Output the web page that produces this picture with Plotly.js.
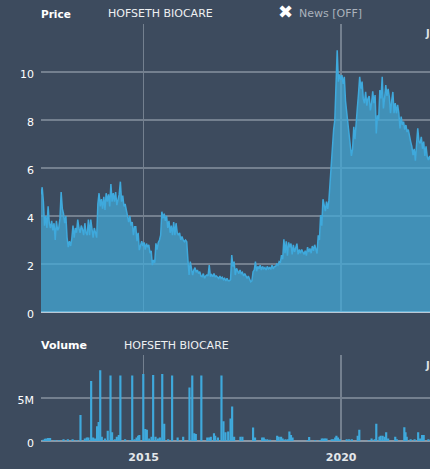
<!DOCTYPE html>
<html><head><meta charset="utf-8">
<script src="https://cdn.plot.ly/plotly-3.0.1.min.js"></script>
<style>html,body{margin:0;padding:0;background:#3d4b5e}</style></head>
<body><div id="chart" style="width:430px;height:469px"></div>
<script>
const companyName = "HOFSETH BIOCARE";
const priceYears = [
2012.40,2012.43,2012.46,2012.49,2012.52,2012.55,2012.58,2012.61,2012.64,2012.67,
2012.70,2012.73,2012.76,2012.79,2012.82,2012.85,2012.88,2012.91,2012.94,2012.97,
2013.00,2013.03,2013.06,2013.09,2013.12,2013.15,2013.18,2013.21,2013.24,2013.27,
2013.30,2013.33,2013.36,2013.39,2013.42,2013.45,2013.48,2013.51,2013.54,2013.57,
2013.60,2013.63,2013.66,2013.69,2013.72,2013.75,2013.78,2013.81,2013.84,2013.87,
2013.90,2013.93,2013.96,2013.99,2014.02,2014.05,2014.08,2014.11,2014.14,2014.17,
2014.20,2014.23,2014.26,2014.29,2014.32,2014.35,2014.38,2014.41,2014.44,2014.47,
2014.50,2014.53,2014.56,2014.59,2014.62,2014.65,2014.68,2014.71,2014.74,2014.77,
2014.80,2014.83,2014.86,2014.89,2014.92,2014.95,2014.98,2015.01,2015.04,2015.07,
2015.10,2015.13,2015.16,2015.19,2015.22,2015.25,2015.28,2015.31,2015.34,2015.37,
2015.40,2015.43,2015.46,2015.49,2015.52,2015.55,2015.58,2015.61,2015.64,2015.67,
2015.70,2015.73,2015.76,2015.79,2015.82,2015.85,2015.88,2015.91,2015.94,2015.97,
2016.00,2016.03,2016.06,2016.09,2016.12,2016.15,2016.18,2016.21,2016.24,2016.27,
2016.30,2016.33,2016.36,2016.39,2016.42,2016.45,2016.48,2016.51,2016.54,2016.57,
2016.60,2016.63,2016.66,2016.69,2016.72,2016.75,2016.78,2016.81,2016.84,2016.87,
2016.90,2016.93,2016.96,2016.99,2017.02,2017.05,2017.08,2017.11,2017.14,2017.17,
2017.20,2017.23,2017.26,2017.29,2017.32,2017.35,2017.38,2017.41,2017.44,2017.47,
2017.50,2017.53,2017.56,2017.59,2017.62,2017.65,2017.68,2017.71,2017.74,2017.77,
2017.80,2017.83,2017.86,2017.89,2017.92,2017.95,2017.98,2018.01,2018.04,2018.07,
2018.10,2018.13,2018.16,2018.19,2018.22,2018.25,2018.28,2018.31,2018.34,2018.37,
2018.40,2018.43,2018.46,2018.49,2018.52,2018.55,2018.58,2018.61,2018.64,2018.67,
2018.70,2018.73,2018.76,2018.79,2018.82,2018.85,2018.88,2018.91,2018.94,2018.97,
2019.00,2019.03,2019.06,2019.09,2019.12,2019.15,2019.18,2019.21,2019.24,2019.27,
2019.30,2019.33,2019.36,2019.39,2019.42,2019.45,2019.48,2019.51,2019.54,2019.57,
2019.60,2019.63,2019.66,2019.69,2019.72,2019.75,2019.78,2019.81,2019.84,2019.87,
2019.90,2019.93,2019.96,2019.99,2020.02,2020.05,2020.08,2020.11,2020.14,2020.17,
2020.20,2020.23,2020.26,2020.29,2020.32,2020.35,2020.38,2020.41,2020.44,2020.47,
2020.50,2020.53,2020.56,2020.59,2020.62,2020.65,2020.68,2020.71,2020.74,2020.77,
2020.80,2020.83,2020.86,2020.89,2020.92,2020.95,2020.98,2021.01,2021.04,2021.07,
2021.10,2021.13,2021.16,2021.19,2021.22,2021.25,2021.28,2021.31,2021.34,2021.37,
2021.40,2021.43,2021.46,2021.49,2021.52,2021.55,2021.58,2021.61,2021.64,2021.67,
2021.70,2021.73,2021.76,2021.79,2021.82,2021.85,2021.88,2021.91,2021.94,2021.97,
2022.00,2022.03,2022.06,2022.09,2022.12,2022.15,2022.18,2022.21,2022.24,2022.27];
const priceValues = [
4.9,5.2,4.6,3.6,4.0,3.5,4.4,3.7,3.5,3.8,
3.4,3.7,3.0,3.8,3.4,3.5,3.9,5.0,4.3,4.1,
3.7,4.0,3.1,2.7,2.95,2.75,3.05,3.6,3.1,3.5,
3.3,3.85,3.5,3.3,3.6,3.45,3.2,3.7,3.3,3.2,
3.85,3.2,3.85,3.3,3.1,3.5,3.25,3.1,4.5,4.95,
4.4,4.7,4.3,4.8,4.25,4.95,4.6,4.9,4.4,5.33,
4.6,4.95,4.6,5.0,4.45,4.7,4.9,5.43,4.6,4.85,
4.4,4.5,4.25,3.95,3.75,4.0,3.6,3.75,3.2,3.55,
3.55,2.95,3.3,2.58,2.8,2.95,2.75,2.9,2.6,2.85,
2.7,2.8,2.45,2.55,1.95,2.17,2.05,2.86,2.6,2.9,
3.0,3.2,4.18,3.9,4.1,3.8,4.0,3.5,3.8,3.3,
3.6,3.2,3.75,3.2,3.7,3.3,3.2,3.3,3.0,3.15,
3.0,2.93,3.0,2.93,2.17,1.54,2.1,1.7,1.54,1.75,
1.85,1.65,1.75,1.6,1.68,1.5,1.47,1.6,1.4,1.5,
1.54,1.5,1.96,1.47,1.55,1.47,1.6,1.47,1.5,1.45,
1.4,1.5,1.4,1.45,1.35,1.4,1.3,1.4,1.3,1.3,
1.35,2.37,1.89,2.1,1.54,1.82,1.7,1.6,1.75,1.6,
1.65,1.5,1.6,1.45,1.4,1.5,1.35,1.26,1.3,1.68,
1.75,2.1,1.7,1.9,1.8,1.95,1.75,1.9,1.8,1.85,
1.75,1.9,1.8,1.85,1.8,1.95,1.8,1.9,1.9,2.0,
1.95,2.1,2.05,2.37,2.2,3.03,2.45,2.95,2.35,2.9,
2.7,2.85,2.4,2.8,2.5,2.7,2.85,2.4,2.6,2.45,
2.6,2.5,2.4,2.55,2.35,2.7,2.5,2.65,2.45,2.75,
2.55,2.8,2.6,2.44,3.2,3.0,4.04,3.6,4.7,4.4,
4.2,4.6,4.3,4.65,5.5,6.2,6.8,7.6,8.0,9.8,
10.9,9.6,9.9,9.67,9.87,9.5,9.8,8.8,8.28,8.07,
7.4,6.96,6.5,6.8,7.72,7.2,7.72,8.5,9.1,9.8,
9.3,9.6,8.9,8.7,9.17,8.6,8.9,9.0,8.4,8.7,
9.2,8.7,9.04,7.44,8.2,8.0,9.25,8.9,9.8,8.48,
8.9,9.46,9.0,9.3,8.97,8.28,8.8,9.17,8.28,8.7,
8.28,8.63,8.3,7.65,8.14,7.8,7.93,7.6,7.79,7.5,
7.6,7.3,7.1,6.9,6.54,6.8,6.3,7.0,7.65,7.1,
7.03,7.3,6.8,7.1,6.5,6.9,6.47,6.33,6.5,6.33];
const volumeYears = [2012.46,2012.50,2012.54,2012.58,2012.63,2012.75,2012.85,2012.97,2013.08,2013.20,2013.30,2013.40,2013.51,2013.56,2013.60,2013.67,2013.72,2013.77,2013.82,2013.86,2013.90,2013.94,2014.02,2014.09,2014.16,2014.20,2014.27,2014.32,2014.37,2014.41,2014.53,2014.65,2014.71,2014.77,2014.82,2014.86,2014.89,2014.99,2015.04,2015.08,2015.14,2015.20,2015.24,2015.30,2015.36,2015.41,2015.47,2015.52,2015.62,2015.72,2015.86,2016.00,2016.16,2016.23,2016.28,2016.32,2016.46,2016.61,2016.66,2016.70,2016.78,2016.81,2016.88,2016.97,2017.02,2017.07,2017.14,2017.20,2017.24,2017.29,2017.45,2017.50,2017.77,2017.82,2018.00,2018.04,2018.07,2018.13,2018.20,2018.38,2018.42,2018.48,2018.52,2018.59,2018.65,2018.69,2018.73,2018.77,2019.15,2019.19,2019.34,2019.46,2019.51,2019.55,2019.59,2019.63,2019.76,2019.80,2019.85,2019.88,2019.92,2019.97,2020.14,2020.20,2020.27,2020.42,2020.46,2020.70,2020.77,2020.85,2020.89,2020.97,2021.00,2021.05,2021.10,2021.14,2021.19,2021.37,2021.41,2021.60,2021.63,2021.66,2021.76,2021.86,2021.95,2022.00,2022.05,2022.09,2022.21];
const volumeValues = [0.15,0.25,0.3,0.35,0.35,0.1,0.1,0.2,0.2,0.2,0.1,3.0,0.3,0.4,0.4,6.95,0.4,0.3,1.7,2.2,8.2,0.5,0.3,1.2,7.6,1.0,0.2,0.5,0.7,7.6,0.2,0.1,7.6,0.2,0.4,0.6,0.7,7.75,1.4,1.3,0.3,0.5,7.65,0.5,0.3,0.4,7.75,2.0,0.2,7.6,0.4,0.5,6.2,7.6,0.9,0.8,7.6,0.4,0.4,0.5,0.9,0.6,0.4,7.6,2.3,1.0,1.1,2.6,4.0,0.5,0.5,0.5,1.55,0.4,0.4,0.4,0.2,0.2,0.15,0.6,0.5,0.5,0.3,0.2,0.2,1.1,0.7,0.4,0.1,0.45,0.1,0.1,0.3,0.3,0.3,0.3,0.2,0.2,0.4,0.6,0.4,0.2,0.2,0.2,0.2,0.6,1.3,0.1,0.3,0.2,2.0,0.5,0.6,0.6,0.5,1.0,0.3,0.5,0.2,1.6,1.0,0.5,0.2,0.2,1.0,0.3,0.7,0.7,0.2];
const priceTicks = [0,2,4,6,8,10,12];
const priceTickText = ["0","2","4","6","8","10",""];
const volumeTicks = [0,5,10];
const volumeTickText = ["0","5M",""];
const yearTicks = [2015,2020];
const yearTickText = ["2015","2020"];

const bg = "#3d4b5e", grid = "#74808f", blue = "#3fa9dc";
const xRange = [2012.4, 2022.25];
const font = "DejaVu Sans, Verdana, sans-serif";
const L = 41, T = 24, W = 389, H = 417;
const px = x => (x - L) / W, py = y => (T + H - y) / H;
const note = (x, y, text, size, color, anchor) => ({xref:"paper", yref:"paper", x:px(x), y:py(y), text, showarrow:false,
  xanchor:anchor||"left", yanchor:"middle", font:{family:font, size, color}});

Plotly.newPlot("chart", [
  {type:"scatter", mode:"lines", x:priceYears, y:priceValues, xaxis:"x", yaxis:"y",
   fill:"tozeroy", fillcolor:"rgba(66,170,218,0.72)", line:{color:blue, width:1.5}, hoverinfo:"skip"},
  {type:"bar", x:volumeYears, y:volumeValues, xaxis:"x2", yaxis:"y2", width:0.055,
   marker:{color:blue, line:{width:0}}, hoverinfo:"skip"}
], {
  width:430, height:469, showlegend:false, paper_bgcolor:bg, plot_bgcolor:bg,
  margin:{l:L, r:0, t:T, b:28}, font:{family:font, color:"#fff", size:11},
  xaxis:{domain:[0,1], anchor:"y", range:xRange, tickvals:yearTicks, ticktext:["",""], gridcolor:grid, gridwidth:1.5, zeroline:false, ticks:"", showline:false},
  yaxis:{domain:[(441-312)/417,1], anchor:"x", range:[0,12], tickvals:priceTicks, ticktext:priceTickText, gridcolor:grid, gridwidth:1.4,
    zeroline:true, zerolinecolor:"#b9c8d6", zerolinewidth:2, ticks:"", ticklen:0, ticklabelstandoff:6, ticklabelshift:2, tickfont:{size:11, color:"#fff"}},
  xaxis2:{domain:[0,1], anchor:"y2", range:xRange, tickvals:yearTicks, ticktext:yearTickText, gridcolor:grid, gridwidth:1.5, zeroline:false, ticks:"", showline:false,
    ticklabelstandoff:8, tickfont:{size:11, color:"#e4e7ea", weight:"bold"}},
  yaxis2:{domain:[0,(441-354.7)/417], anchor:"x2", range:[0,10], tickvals:volumeTicks, ticktext:volumeTickText, gridcolor:grid, gridwidth:1.4,
    zeroline:true, zerolinecolor:"#8b97a5", zerolinewidth:1.4, ticks:"", ticklabelstandoff:6, ticklabelshift:2, tickfont:{size:11, color:"#fff"}},
  annotations:[
    note(39,14,"<b>Price</b>",10.5,"#fff"),
    note(106,14,companyName,11,"#eef0f2"),
    note(276,12,"✖",18,"#fff"),
    note(297,14,"News [OFF]",11,"#aab2bc"),
    note(423,34,"<b>J</b>",10,"#dfe3e6"),
    note(39,345,"<b>Volume</b>",11,"#fff"),
    note(122,345,companyName,11,"#eef0f2"),
    note(423,365,"<b>J</b>",10,"#dfe3e6")
  ]
}, {displayModeBar:false, staticPlot:true});
</script></body></html>
